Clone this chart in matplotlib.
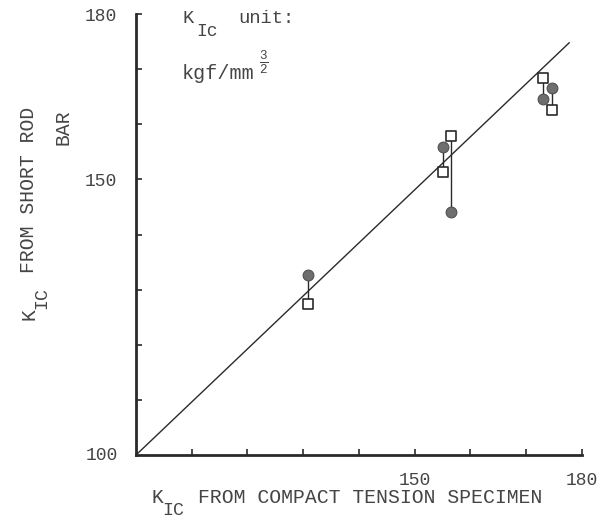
import matplotlib
matplotlib.use("Agg")
import matplotlib.pyplot as plt
from matplotlib.transforms import offset_copy

plt.rcParams["font.family"] = ["Liberation Mono", "DejaVu Sans Mono"]
plt.rcParams["mathtext.fontset"] = "custom"
plt.rcParams["mathtext.rm"] = "Liberation Mono"
plt.rcParams["mathtext.it"] = "Liberation Mono"

INK = "#2a2a2a"
TXT = "#454545"
FS = 14.2

# K_IC from compact tension specimen (x) vs short rod bar (y), kgf/mm^3/2
pair_x = [130.9, 155.1, 156.5, 173.0, 174.6]
circle_y = [132.7, 155.9, 144.1, 164.6, 166.6]
square_y = [127.4, 151.4, 157.9, 168.4, 162.6]

# reference line as drawn
line_x = [100, 177.7]
line_y = [100, 174.8]

x_ticks = [110, 120, 130, 140, 150, 160, 170, 180]
x_ticklabels = ["", "", "", "", "150", "", "", "180"]
y_ticks = [110, 120, 130, 140, 150, 160, 170, 180]
y_ticklabels = ["", "", "", "", "150", "", "", "180"]

fig = plt.figure(figsize=(5.97, 5.18), dpi=100)
ax = fig.add_axes([0.2278, 0.1216, 0.747, 0.851])

ax.plot(line_x, line_y, color=INK, lw=1.0, zorder=2)

for x, yc, ys in zip(pair_x, circle_y, square_y):
    ax.plot([x, x], [yc, ys], color=INK, lw=1.0, zorder=3)
ax.scatter(pair_x, circle_y, s=60, marker="o", facecolor="#6e6e6e",
           edgecolor="#505050", linewidth=0.8, zorder=4)
ax.scatter(pair_x, square_y, s=42, marker="s", facecolor="white",
           edgecolor=INK, linewidth=1.2, zorder=4)

ax.set_xlim(100, 180)
ax.set_ylim(100, 180)
for s in ["top", "right"]:
    ax.spines[s].set_visible(False)
for s in ["left", "bottom"]:
    ax.spines[s].set_linewidth(2.0)
    ax.spines[s].set_color(INK)

ax.set_xticks(x_ticks)
ax.set_xticklabels(x_ticklabels)
ax.set_yticks(y_ticks)
ax.set_yticklabels(y_ticklabels)
ax.tick_params(direction="in", length=4, width=1.2, color=INK,
               labelsize=13, labelcolor=TXT)
ax.tick_params(axis="x", pad=12)
ax.tick_params(axis="y", pad=14)

ax.text(-0.04, 0.0, "100", transform=ax.transAxes, ha="right", va="center",
        fontsize=13, color=TXT)

cw = 0.6 * FS  # monospace character width in points


def shifted(dx, dy):
    return offset_copy(fig.transFigure, fig=fig, x=dx, y=dy, units="points")


# x label: K with lowered IC
xl = (0.253, 0.028)
fig.text(*xl, "K", fontsize=FS, color=TXT, ha="left", va="baseline")
fig.text(*xl, "IC", fontsize=FS - 1, color=TXT, ha="left", va="baseline",
         transform=shifted(cw * 0.95, -8))
fig.text(*xl, "FROM COMPACT TENSION SPECIMEN", fontsize=FS, color=TXT,
         ha="left", va="baseline", transform=shifted(cw * 4, 0))

# y label: rotated, subscript shifted to the right
yl = (0.057, 0.382)
rot = dict(rotation=90, rotation_mode="anchor", ha="left", va="baseline")
fig.text(*yl, "K", fontsize=FS, color=TXT, **rot)
fig.text(*yl, "IC", fontsize=FS - 1, color=TXT, transform=shifted(9, cw * 0.95),
         **rot)
fig.text(*yl, "FROM SHORT ROD", fontsize=FS, color=TXT,
         transform=shifted(0, cw * 4), **rot)
fig.text(0.106, 0.788, "BAR", rotation=90, fontsize=FS, color=TXT,
         ha="center", va="top")

# unit note
ul = (0.305, 0.955)
fig.text(*ul, "K", fontsize=13.5, color=TXT, ha="left", va="baseline")
fig.text(*ul, "Ic", fontsize=13, color=TXT, ha="left", va="baseline",
         transform=shifted(0.6 * 13.5 * 1.3, -9))
fig.text(*ul, "unit:", fontsize=13.5, color=TXT, ha="left", va="baseline",
         transform=shifted(0.6 * 13.5 * 5, 0))
fig.text(0.305, 0.848, "kgf/mm", fontsize=14.5, color=TXT,
         ha="left", va="baseline")
fig.text(0.434, 0.880, r"$\frac{3}{2}$", fontsize=13, color=TXT,
         ha="left", va="center")

fig.savefig("out.png", dpi=100)
